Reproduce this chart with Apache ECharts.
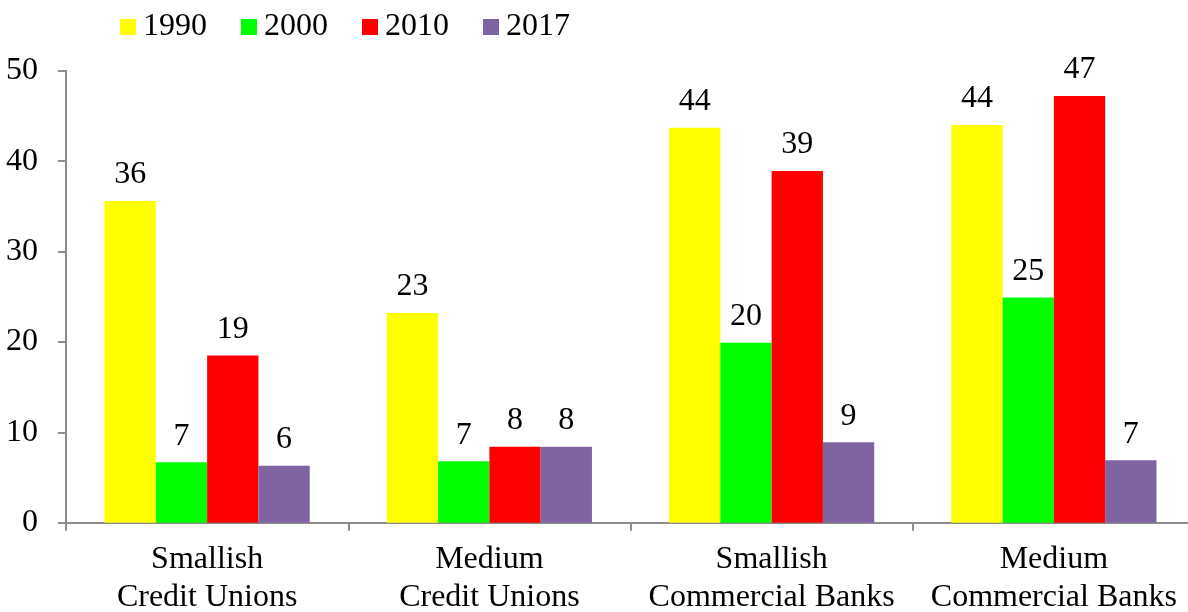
<!DOCTYPE html>
<html>
<head>
<meta charset="utf-8">
<script src="https://cdn.jsdelivr.net/npm/echarts@6/dist/echarts.min.js"></script>
<style>html,body{margin:0;padding:0;background:#fff;}#c{width:1188px;height:612px;}</style>
</head>
<body>
<div id="c"></div>
<script>
const categories = ["Smallish\nCredit Unions", "Medium\nCredit Unions", "Smallish\nCommercial Banks", "Medium\nCommercial Banks"];
const years = ["1990", "2000", "2010", "2017"];
const v1990 = [35.6, 23.2, 43.7, 44.0];
const v2000 = [6.7, 6.8, 19.9, 24.9];
const v2010 = [18.5, 8.4, 38.9, 47.2];
const v2017 = [6.3, 8.4, 8.9, 6.9];
const colors = ["#FFFF00", "#00FF00", "#FF0000", "#8064A2"];
const yTicks = [0, 10, 20, 30, 40, 50];

const font = "'Liberation Serif', 'Times New Roman', serif";
const seriesData = [v1990, v2000, v2010, v2017];
const chart = echarts.init(document.getElementById('c'), null, {renderer: 'canvas'});
chart.setOption({
  animation: false,
  textStyle: {fontFamily: font},
  color: colors,
  legend: {
    left: 115, top: 6,
    icon: 'rect', itemWidth: 16, itemHeight: 16, itemGap: 34,
    textStyle: {fontFamily: font, fontSize: 32, color: '#000', padding: [0, 0, 0, 2]},
    data: years
  },
  grid: {left: 66, width: 1129, top: 70.7, bottom: 89.3, containLabel: false, outerBoundsMode: 'none'},
  xAxis: {
    type: 'category', data: categories,
    axisLine: {lineStyle: {color: '#8c8c8c', width: 2}},
    axisTick: {show: true, length: 8, lineStyle: {color: '#8c8c8c', width: 2}},
    axisLabel: {fontFamily: font, fontSize: 32, color: '#000', lineHeight: 38, margin: 18, interval: 0}
  },
  yAxis: {
    type: 'value', min: yTicks[0], max: yTicks[yTicks.length - 1], interval: 10,
    axisLine: {show: true, lineStyle: {color: '#8c8c8c', width: 2}},
    axisTick: {show: true, length: 8, lineStyle: {color: '#8c8c8c', width: 2}},
    splitLine: {show: false},
    axisLabel: {fontFamily: font, fontSize: 32, color: '#000', margin: 28}
  },
  series: years.map((y, i) => ({
    name: y, type: 'bar', data: seriesData[i],
    barGap: '0%', barCategoryGap: '27.3%',
    itemStyle: {color: colors[i]},
    label: {show: true, position: 'top', distance: 10, fontFamily: font, fontSize: 32, color: '#000',
      formatter: p => Math.round(p.value)}
  }))
});
</script>
</body>
</html>
